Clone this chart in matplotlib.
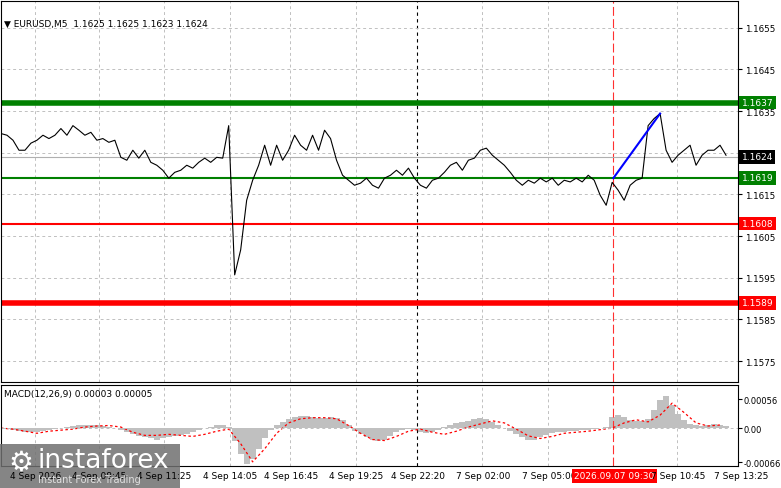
import matplotlib
matplotlib.use('Agg')
import matplotlib.pyplot as plt
import matplotlib.patches as mpatches

# close prices, one value per 6 px step (M5 bars sampled)
closes = [1.16296, 1.16292, 1.16280, 1.16256, 1.16256, 1.16273, 1.16280, 1.16292, 1.16284, 1.16292,
          1.16308, 1.16292, 1.16315, 1.16304, 1.16292, 1.16299, 1.16280, 1.16284, 1.16275, 1.16280,
          1.16239, 1.16232, 1.16256, 1.16237, 1.16256, 1.16227, 1.16220, 1.16208, 1.16189, 1.16203,
          1.16208, 1.16220, 1.16213, 1.16227, 1.16237, 1.16227, 1.16239, 1.16237, 1.16315, 1.15957,
          1.16017, 1.16136, 1.16184, 1.16220, 1.16268, 1.16220, 1.16268, 1.16232, 1.16256, 1.16292,
          1.16268, 1.16256, 1.16292, 1.16256, 1.16304, 1.16284, 1.16232, 1.16196, 1.16184, 1.16172,
          1.16177, 1.16189, 1.16172, 1.16165, 1.16189, 1.16196, 1.16208, 1.16196, 1.16213, 1.16189,
          1.16172, 1.16165, 1.16184, 1.16189, 1.16203, 1.16220, 1.16227, 1.16208, 1.16232, 1.16237,
          1.16256, 1.16261, 1.16244, 1.16232, 1.16220, 1.16203, 1.16184, 1.16172, 1.16184, 1.16177,
          1.16189, 1.16180, 1.16189, 1.16172, 1.16184, 1.16180, 1.16189, 1.16180, 1.16196, 1.16184,
          1.16148, 1.16124, 1.16179, 1.16160, 1.16136, 1.16172, 1.16184, 1.16189, 1.16315, 1.16332,
          1.16344, 1.16256, 1.16227, 1.16244, 1.16256, 1.16268, 1.16220, 1.16244, 1.16256, 1.16256,
          1.16268, 1.16244]

# MACD histogram (units of 1e-5), same steps
macd_hist = [0, -1,
             -3, -5, -7, -8, -8, -6, -4, -2,
             0, 2, 4, 5, 6, 6, 5, 4, 2, 0,
             -3, -8, -12, -15, -18, -20, -22, -20, -18, -16, -14, -12,
             -8, -3, 0, 3, 5, 6,
             2, -25, -50, -70, -60, -40, -20, -3,
             5, 12, 18, 22, 24, 24, 22, 20, 20, 22, 20, 15,
             5, -5, -12, -18, -22, -25, -22, -15,
             -8, -4, -2, -4, -8, -10,
             -8, -4, 2, 6, 10, 12, 14, 18, 20, 18, 12, 6, 0,
             -6, -12, -18, -22, -22, -18, -14, -10,
             -8, -7, -6, -5, -4, -3, -2, 0, 3,
             22, 26, 22, 16, 14, 14,
             18, 35, 55, 62, 45, 28,
             15, 8, 5, 4, 6, 7, 6, 4]

# signal line (units of 1e-5), every second step
macd_signal = [0, -2, -6, -10, -6, -4, -2, 2, 4, 5, 2, -8, -14, -14, -12, -14, -16, -12, -6, -2,
               -30, -65, -40, -10, 10, 18, 20, 20, 18, 5, -10, -22, -24, -16, -6, -2, -8, -12, -6, 2,
               8, 14, 10, -2, -15, -20, -16, -10, -8, -6, -3, 0, 10, 16, 12, 25, 48, 30, 10, 4, 6]

levels = [(1.1637, '#008000', 4), (1.1619, '#008000', 1.5), (1.1608, '#ff0000', 1.5), (1.1589, '#ff0000', 4)]
price_ticks = [1.1575, 1.1585, 1.1595, 1.1605, 1.1615, 1.1625, 1.1635, 1.1645, 1.1655]
time_labels = ['4 Sep 2026', '4 Sep 08:45', '4 Sep 11:25', '4 Sep 14:05', '4 Sep 16:45', '4 Sep 19:25',
               '4 Sep 22:20', '7 Sep 02:00', '7 Sep 05:00', '2026.09.07 09:30', '7 Sep 10:45', '7 Sep 13:25']
time_pos = [5.7, 16.3, 27.2, 38.2, 48.3, 59.2, 69.5, 80.3, 91.3, 102.2, 112.8, 123.5]
trend_start = (102.2, 1.16189)
trend_end = (110, 1.16344)

W, H = 781, 489
fig = plt.figure(figsize=(7.81, 4.89), dpi=100)
ax = fig.add_axes([1 / W, 1 - 383 / H, 737 / W, 381 / H])
ax2 = fig.add_axes([1 / W, 1 - 467 / H, 737 / W, 81 / H])

xs = list(range(len(closes)))
for a in (ax, ax2):
    a.set_xlim(0, 123)
    for t in time_pos:
        if abs(t - 69.5) < 0.1:
            a.axvline(t, color='black', lw=0.8, ls=(0, (3, 3)))
        elif abs(t - 102.2) < 0.1:
            a.axvline(t, color='#ff3030', lw=0.8, ls=(0, (8, 3)))
        else:
            a.axvline(t, color='#c0c0c0', lw=0.7, ls=(0, (3, 3)))
    a.yaxis.tick_right()
    a.tick_params(axis='y', labelsize=6.3, length=3, pad=2)
    a.set_xticks([])
ax2.tick_params(axis='y', labelsize=6, pad=1)

ax.set_ylim(1.15700, 1.16614)
ax.set_yticks(price_ticks)
# 1.1625 label is hidden behind the current-price box
ax.set_yticklabels(['' if abs(p - 1.1625) < 1e-6 else '%.4f' % p for p in price_ticks])
for p in price_ticks:
    ax.axhline(p, color='#c0c0c0', lw=0.7, ls=(0, (3, 3)))
ax.axhline(1.1624, color='#b0b0b0', lw=0.8)
for lv, c, lw in levels:
    ax.axhline(lv, color=c, lw=lw)
ax.plot(xs, closes, color='black', lw=0.8)
ax.plot([trend_start[0], trend_end[0]], [trend_start[1], trend_end[1]], color='#0000ff', lw=1.5)
ax.text(0.5, 1.16560, '\u25BC EURUSD,M5  1.1625 1.1625 1.1623 1.1624', fontsize=6.5, va='center')

def price_box(v, bg, fg='white'):
    ax.text(1.005, (v - 1.15700) / (1.16614 - 1.15700), '%.4f' % v, transform=ax.transAxes,
            fontsize=6.5, color=fg, va='center', ha='left',
            bbox=dict(boxstyle='square,pad=0.25', fc=bg, ec='none'))

price_box(1.1637, '#008000')
price_box(1.1624, 'black')
price_box(1.1619, '#008000')
price_box(1.1608, '#ff0000')
price_box(1.1589, '#ff0000')

hist = [v * 1e-5 for v in macd_hist]
sig = [v * 1e-5 for v in macd_signal]
ax2.bar(xs, hist, width=1.0, color='#c0c0c0')
ax2.plot([2 * i for i in range(len(sig))], sig, color='#ff0000', lw=0.9, ls=(0, (2, 2)))
ax2.axhline(0, color='#c0c0c0', lw=0.7, ls=(0, (3, 3)))
ax2.set_ylim(-0.00073, 0.00083)
ax2.set_yticks([-0.00066, 0, 0.00056])
ax2.set_yticklabels(['-0.00066', '0.00', '0.00056'])
ax2.text(0.5, 0.00066, 'MACD(12,26,9) 0.00003 0.00005', fontsize=6.5, va='center')

for t, lab in zip(time_pos, time_labels):
    xf = (1 + t * 6) / W
    if lab.startswith('2026'):
        fig.text(xf, 1 - 477 / H, lab, fontsize=6.5, color='white', ha='center', va='center',
                 bbox=dict(boxstyle='square,pad=0.25', fc='#ff0000', ec='none'))
    elif lab == '7 Sep 13:25':
        fig.text(741 / W, 1 - 477 / H, lab, fontsize=6.5, ha='center', va='center')
    else:
        fig.text(xf, 1 - 477 / H, lab, fontsize=6.5, ha='center', va='center')

# watermark
fig.patches.append(mpatches.Rectangle((0, 0), 180 / W, 44 / H, transform=fig.transFigure,
                                      fc='#707070', alpha=0.85, ec='none'))
fig.text(8 / W, 1 - 463 / H, '\u2699', fontsize=20, color='white', va='center')
fig.text(38 / W, 1 - 461 / H, 'instaforex', fontsize=19, color='white', va='center')
fig.text(38 / W, 1 - 480 / H, 'Instant Forex Trading', fontsize=7, color='#e0e0e0', va='center')

fig.savefig('out.png', dpi=100)
